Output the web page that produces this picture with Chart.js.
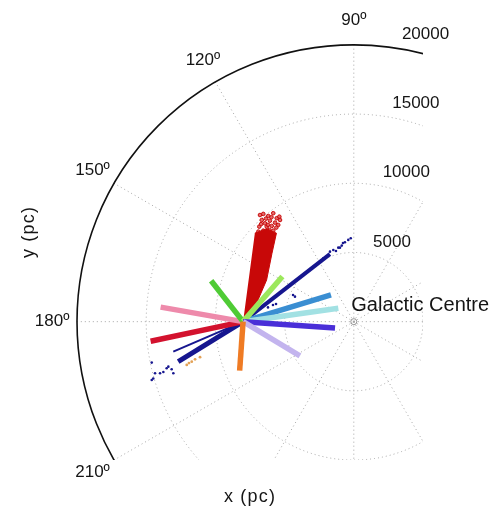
<!DOCTYPE html>
<html>
<head>
<meta charset="utf-8">
<script src="https://cdn.jsdelivr.net/npm/chart.js"></script>
<style>
  html, body { margin: 0; padding: 0; background: #fff; }
  canvas { display: block; }
</style>
</head>
<body>
<canvas id="galaxy" width="493" height="509"></canvas>
<script>
// Galactocentric frame in pc: Galactic Centre at the origin, Sun on the 180º axis.
const R0 = 8000;

// Radial rings (pc) and labelled azimuths (deg)
const ringValues = [5000, 10000, 15000, 20000];
const spokeAngles = [0, 30, 60, 90, 120, 150, 180, 210, 240, 270, 300, 330];
const angleTicks = [90, 120, 150, 180, 210];

// Heliocentric sight lines: direction (deg, anticlockwise from the Sun→GC line) and length (pc)
const lineDirs = [128, 49, 170, 192, 266, 329, 356, 8, 17];
const lineLens = [3750, 4330, 6050, 6830, 3550, 4790, 6660, 6950, 6640];
const lineColors = ['#4fcb35', '#9ce85c', '#ee8aab', '#d3122e', '#ef7b24',
                    '#c3b4ee', '#4a2fd8', '#a2e1e3', '#3a8ed2'];

// Dense stellar streaks from the Sun: direction (deg) and extent (pc)
const streakDirs = [37.9, 211.7, 203.3];
const streakLens = [7950, 5510, 5490];

// Sparse stars beyond the streaks (x, y in pc)
const navyStars = [
  [-2200, 4580], [-1720, 5060], [-1480, 5180], [-1290, 5110], [-1120, 5350],
  [-1000, 5350], [-870, 5500], [-780, 5690], [-640, 5740], [-400, 5910], [-220, 6030],
  [-4250, 1810], [-4390, 1930], [-5620, 1280], [-5840, 1210], [-6200, 1030],
  [-14600, -4220], [-14490, -4110], [-14360, -3730], [-14000, -3730], [-13760, -3640],
  [-13520, -3370], [-13160, -3440], [-13400, -3250], [-13040, -3730], [-14600, -2960]
];
const orangeStars = [[-12070, -3130], [-11910, -2990], [-11710, -2890], [-11470, -2720], [-11110, -2570]];

// Red fan of stars: outline of the dense part, then the loose stars at its tip (pc)
const fanOutline = [[-8000, 0], [-6920, 1570], [-6300, 3010], [-5910, 4950], [-5590, 6400],
                    [-6300, 6720], [-7150, 6400]];
const fanTipStars = [
  [-6780, 7710], [-6540, 7790], [-6180, 7640], [-5820, 7840], [-5570, 7480], [-5380, 7590],
  [-6650, 7350], [-6420, 7110], [-6060, 7300], [-5690, 7160], [-6830, 6870], [-6290, 6870],
  [-5930, 6920], [-5460, 6990], [-6540, 6580], [-5820, 6580], [-6900, 6510], [-5330, 7350],
  [-6100, 6630], [-6350, 7450], [-5950, 7550], [-6700, 7050], [-6200, 7000], [-5600, 6800]
];

const sun = { x: -R0, y: 0 };
const toPts = arr => arr.map(([x, y]) => ({ x, y }));
function fromSun(dir, len) {
  const t = dir * Math.PI / 180;
  return { x: -R0 + len * Math.cos(t), y: len * Math.sin(t) };
}

const FONT = "'Liberation Sans', Arial, Helvetica, sans-serif";

const datasets = [];
datasets.push({
  type: 'scatter', data: [{ x: 0, y: 0 }], order: 0,
  pointStyle: 'circle', pointRadius: 3, borderWidth: 0.8,
  borderColor: '#7a7a7a', backgroundColor: 'rgba(0,0,0,0)'
});
datasets.push({
  type: 'scatter', data: toPts(orangeStars), order: 1,
  pointRadius: 1.4, borderWidth: 0, backgroundColor: '#e3a257'
});
datasets.push({
  type: 'scatter', data: toPts(navyStars), order: 2,
  pointRadius: 1.3, borderWidth: 0, backgroundColor: '#16168f'
});
const lineRank = [4, 3, 5, 6, 0, 1, 2, 3, 3];
lineDirs.forEach((d, i) => {
  datasets.push({
    type: 'line', data: [sun, fromSun(d, lineLens[i])], order: 3 + lineRank[i],
    borderColor: lineColors[i], borderWidth: 5.5, borderCapStyle: 'butt',
    pointRadius: 0, fill: false, tension: 0
  });
});
datasets.push({
  type: 'line', data: toPts(fanOutline), order: 12,
  borderColor: '#c80808', borderWidth: 1, backgroundColor: '#c80808',
  fill: 'shape', pointRadius: 0, tension: 0
});
datasets.push({
  type: 'scatter', data: toPts(fanTipStars), order: 13,
  pointRadius: 1.8, borderWidth: 1, borderColor: '#c80c0c', backgroundColor: 'rgba(222,80,80,0.85)'
});
const streakWidths = [4, 5, 2];
streakDirs.forEach((d, i) => {
  datasets.push({
    type: 'line', data: [sun, fromSun(d, streakLens[i])], order: 14,
    borderColor: '#16168f', borderWidth: streakWidths[i], borderCapStyle: 'butt',
    pointRadius: 0, fill: false, tension: 0
  });
});

const polarFrame = {
  id: 'polarFrame',
  beforeDatasetsDraw(chart) {
    const { ctx, chartArea: a, scales: { x, y } } = chart;
    const cx = x.getPixelForValue(0), cy = y.getPixelForValue(0);
    const k = (x.getPixelForValue(10000) - cx) / 10000;
    const rMax = ringValues[ringValues.length - 1];
    ctx.save();
    ctx.beginPath();
    ctx.rect(a.left - 2, a.top - 2, a.right - a.left + 2, a.bottom - a.top + 2);
    ctx.clip();
    ctx.lineWidth = 1;
    ctx.strokeStyle = '#a6a6a6';
    ctx.setLineDash([1, 3]);
    ringValues.slice(0, -1).forEach(v => {
      ctx.beginPath();
      ctx.arc(cx, cy, v * k, 0, Math.PI * 2);
      ctx.stroke();
    });
    spokeAngles.forEach(d => {
      const t = d * Math.PI / 180;
      ctx.beginPath();
      ctx.moveTo(cx, cy);
      ctx.lineTo(x.getPixelForValue(rMax * Math.cos(t)), y.getPixelForValue(rMax * Math.sin(t)));
      ctx.stroke();
    });
    ctx.setLineDash([]);
    ctx.strokeStyle = '#111';
    ctx.lineWidth = 1.6;
    ctx.beginPath();
    ctx.arc(cx, cy, rMax * k, 0, Math.PI * 2);
    ctx.stroke();
    ctx.restore();
  },
  afterDatasetsDraw(chart) {
    const { ctx, scales: { x, y } } = chart;
    const cx = x.getPixelForValue(0), cy = y.getPixelForValue(0);
    const k = (x.getPixelForValue(10000) - cx) / 10000;
    const rMax = ringValues[ringValues.length - 1];
    ctx.save();
    ctx.fillStyle = '#151515';
    ctx.textBaseline = 'middle';

    // azimuth labels just outside the outer ring
    ctx.font = `17px ${FONT}`;
    ctx.textAlign = 'center';
    const rl = rMax * 1.09 * k;
    angleTicks.forEach(d => {
      const t = d * Math.PI / 180;
      ctx.fillText(d + 'º', cx + rl * Math.cos(t), cy - rl * Math.sin(t));
    });

    // ring values, stacked above the rings on the right
    ctx.textAlign = 'left';
    ringValues.forEach(v => {
      const r = v * k;
      ctx.fillText(String(v), cx + 9.6 + 0.139 * r, cy - r - 10.5);
    });

    // Galactic Centre label
    ctx.font = `20px ${FONT}`;
    ctx.textBaseline = 'alphabetic';
    ctx.fillText('Galactic Centre', cx - 2.5, cy - 10.5);

    // axis titles
    ctx.font = `18px ${FONT}`;
    ctx.letterSpacing = '1.2px';
    ctx.textAlign = 'center';
    ctx.textBaseline = 'middle';
    ctx.fillText('x (pc)', 250, 497);
    ctx.translate(29, 232);
    ctx.rotate(-Math.PI / 2);
    ctx.fillText('y (pc)', 0, 0);
    ctx.restore();
  }
};

new Chart(document.getElementById('galaxy'), {
  type: 'scatter',
  data: { datasets },
  options: {
    responsive: false,
    animation: false,
    events: [],
    layout: { padding: { left: 77, right: 70, top: 45, bottom: 49 } },
    scales: {
      x: { type: 'linear', min: -20000, max: 5000, display: false },
      y: { type: 'linear', min: -10000, max: 20000, display: false }
    },
    plugins: { legend: { display: false }, tooltip: { enabled: false } }
  },
  plugins: [polarFrame]
});
</script>
</body>
</html>
